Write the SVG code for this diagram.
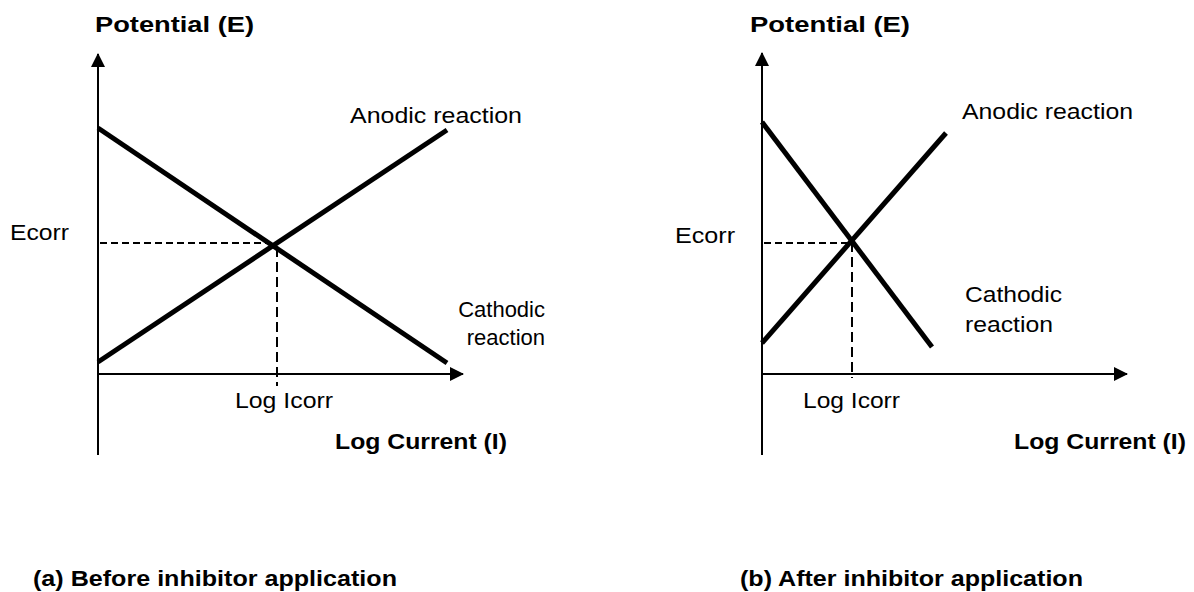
<svg xmlns="http://www.w3.org/2000/svg" width="1194" height="592" viewBox="0 0 1194 592">
<style>
text{font-family:"Liberation Sans",Arial,sans-serif;fill:#000}
.b{font-weight:bold;font-size:22px}
.r{font-size:22px}
.axis{stroke:#000;stroke-width:2;fill:none}
.curve{stroke:#000;stroke-width:5;fill:none}
.dh{stroke:#000;stroke-width:2;stroke-dasharray:7 4;fill:none}
.dv{stroke:#000;stroke-width:2;stroke-dasharray:10 5;fill:none}
</style>
<defs>
<marker id="ah" viewBox="0 0 14 14" refX="13" refY="7" markerWidth="14" markerHeight="14" markerUnits="userSpaceOnUse" orient="auto">
<path d="M0,0 L14,7 L0,14 Z" fill="#000"/>
</marker>
</defs>
<rect width="1194" height="592" fill="#fff"/>
<g id="panel-a">
<g id="axes-a">
<line class="axis" x1="98" y1="455" x2="98" y2="54" marker-end="url(#ah)"/>
<line class="axis" x1="98" y1="374" x2="463" y2="374" marker-end="url(#ah)"/>
</g>
<g id="curves-a">
<line class="curve" x1="98" y1="128" x2="447" y2="363"/>
<line class="curve" x1="98" y1="362" x2="447" y2="130"/>
</g>
<g id="guides-a">
<line class="dh" x1="100" y1="243" x2="273" y2="243"/>
<line class="dv" x1="277" y1="247" x2="277" y2="386"/>
</g>
<g id="labels-a">
<text class="b" x="95" y="32" textLength="159" lengthAdjust="spacingAndGlyphs">Potential (E)</text>
<text class="r" x="350" y="123" textLength="172" lengthAdjust="spacingAndGlyphs">Anodic reaction</text>
<text class="r" x="10" y="240" textLength="59" lengthAdjust="spacingAndGlyphs">Ecorr</text>
<text class="r" x="545" y="317" text-anchor="end">Cathodic</text>
<text class="r" x="545" y="345" text-anchor="end">reaction</text>
<text class="r" x="235" y="408" textLength="98" lengthAdjust="spacingAndGlyphs">Log Icorr</text>
<text class="b" x="335" y="449" textLength="172" lengthAdjust="spacingAndGlyphs">Log Current (I)</text>
<text class="b" x="33" y="586" textLength="364" lengthAdjust="spacingAndGlyphs">(a) Before inhibitor application</text>
</g>
</g>
<g id="panel-b">
<g id="axes-b">
<line class="axis" x1="762" y1="455" x2="762" y2="53" marker-end="url(#ah)"/>
<line class="axis" x1="762" y1="374" x2="1127" y2="374" marker-end="url(#ah)"/>
</g>
<g id="curves-b">
<line class="curve" x1="762" y1="122" x2="932" y2="347"/>
<line class="curve" x1="762" y1="343" x2="946" y2="133"/>
</g>
<g id="guides-b">
<line class="dh" x1="764" y1="243" x2="850" y2="243"/>
<line class="dv" x1="852" y1="242" x2="852" y2="378"/>
</g>
<g id="labels-b">
<text class="b" x="750" y="32" textLength="160" lengthAdjust="spacingAndGlyphs">Potential (E)</text>
<text class="r" x="962" y="119" textLength="171" lengthAdjust="spacingAndGlyphs">Anodic reaction</text>
<text class="r" x="675" y="243" textLength="60" lengthAdjust="spacingAndGlyphs">Ecorr</text>
<text class="r" x="965" y="302" textLength="97" lengthAdjust="spacingAndGlyphs">Cathodic</text>
<text class="r" x="965" y="332" textLength="88" lengthAdjust="spacingAndGlyphs">reaction</text>
<text class="r" x="803" y="408" textLength="97" lengthAdjust="spacingAndGlyphs">Log Icorr</text>
<text class="b" x="1014" y="449" textLength="172" lengthAdjust="spacingAndGlyphs">Log Current (I)</text>
<text class="b" x="740" y="586" textLength="343" lengthAdjust="spacingAndGlyphs">(b) After inhibitor application</text>
</g>
</g>
</svg>
